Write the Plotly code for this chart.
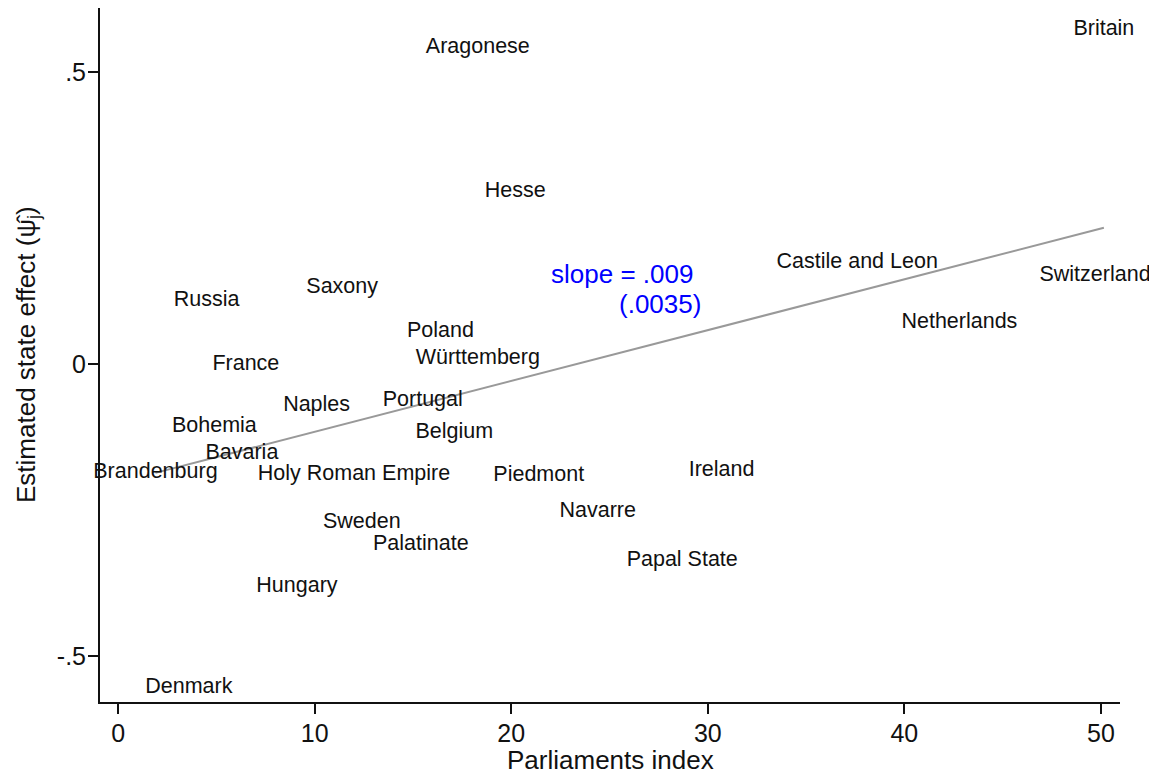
import plotly.graph_objects as go

# State labels with parliaments index (x) and estimated state effect (y)
states = [
    "Britain", "Aragonese", "Hesse", "Castile and Leon", "Switzerland",
    "Russia", "Saxony", "Netherlands", "Poland", "Württemberg", "France",
    "Naples", "Portugal", "Bohemia", "Belgium", "Bavaria", "Brandenburg",
    "Holy Roman Empire", "Piedmont", "Ireland", "Navarre", "Sweden",
    "Palatinate", "Papal State", "Hungary", "Denmark",
]
parliaments = [
    50.15, 18.3, 20.2, 37.6, 49.7,
    4.5, 11.4, 42.8, 16.4, 18.3, 6.5,
    10.1, 15.5, 4.9, 17.1, 6.3, 1.9,
    12.0, 21.4, 30.7, 24.4, 12.4,
    15.4, 28.7, 9.1, 3.6,
]
state_effect = [
    0.573, 0.541, 0.296, 0.174, 0.152,
    0.109, 0.131, 0.070, 0.056, 0.010, -0.001,
    -0.072, -0.062, -0.107, -0.117, -0.153, -0.186,
    -0.189, -0.191, -0.182, -0.252, -0.271,
    -0.310, -0.336, -0.381, -0.555,
]

# Fitted line
fit_intercept = -0.203
fit_slope = 0.0087

FONT = "Liberation Sans, Arial, Helvetica, sans-serif"

fig = go.Figure()

x_fit = [min(parliaments), max(parliaments)]
y_fit = [fit_intercept + fit_slope * x for x in x_fit]
fig.add_trace(go.Scatter(
    x=x_fit, y=y_fit, mode="lines",
    line=dict(color="#999999", width=2),
    hoverinfo="skip", showlegend=False,
))

fig.add_trace(go.Scatter(
    x=parliaments, y=state_effect, mode="text", text=states,
    textposition="middle center", cliponaxis=False,
    textfont=dict(family=FONT, size=21.5, color="#111111"),
    showlegend=False,
))

fig.add_annotation(x=25.64, y=0.1535, text="slope = .009", showarrow=False,
                   font=dict(family=FONT, size=26, color="#0000ff"))
fig.add_annotation(x=27.57, y=0.102, text="(.0035)", showarrow=False,
                   font=dict(family=FONT, size=26, color="#0000ff"))

# axis titles as annotations so the margins stay fixed
fig.add_annotation(xref="paper", yref="paper", x=0.5, y=0, yshift=-58,
                   text="Parliaments index", showarrow=False,
                   xanchor="center", yanchor="middle",
                   font=dict(family=FONT, size=26, color="#111111"))
fig.add_annotation(xref="paper", yref="paper", x=0, y=0.5, xshift=-73,
                   text="Estimated state effect (ψ̂<sub>j</sub>)", showarrow=False,
                   textangle=-90, xanchor="center", yanchor="middle",
                   font=dict(family=FONT, size=26, color="#111111"))

# page body adds an 8px offset, so the figure is 8px smaller each way
fig.update_layout(
    width=1149, height=767,
    margin=dict(l=92, r=37, t=0, b=73),
    paper_bgcolor="white", plot_bgcolor="white",
    font=dict(family=FONT, color="#111111"),
)
fig.update_xaxes(
    range=[-0.92, 50.97], tickvals=[0, 10, 20, 30, 40, 50], automargin=False,
    showgrid=False, zeroline=False, showline=True, linecolor="#111111",
    linewidth=2, ticks="outside", ticklen=10, tickwidth=1.5, tickcolor="#111111",
    tickfont=dict(size=25), ticklabelstandoff=-2,
)
fig.update_yaxes(
    range=[-0.5788, 0.6096], tickvals=[-0.5, 0, 0.5], ticktext=["-.5", "0", ".5"],
    automargin=False,
    showgrid=False, zeroline=False, showline=True, linecolor="#111111",
    linewidth=2, ticks="outside", ticklen=10, tickwidth=1.5, tickcolor="#111111",
    tickfont=dict(size=25), ticklabelstandoff=-3,
)

fig.write_html("out.html")
